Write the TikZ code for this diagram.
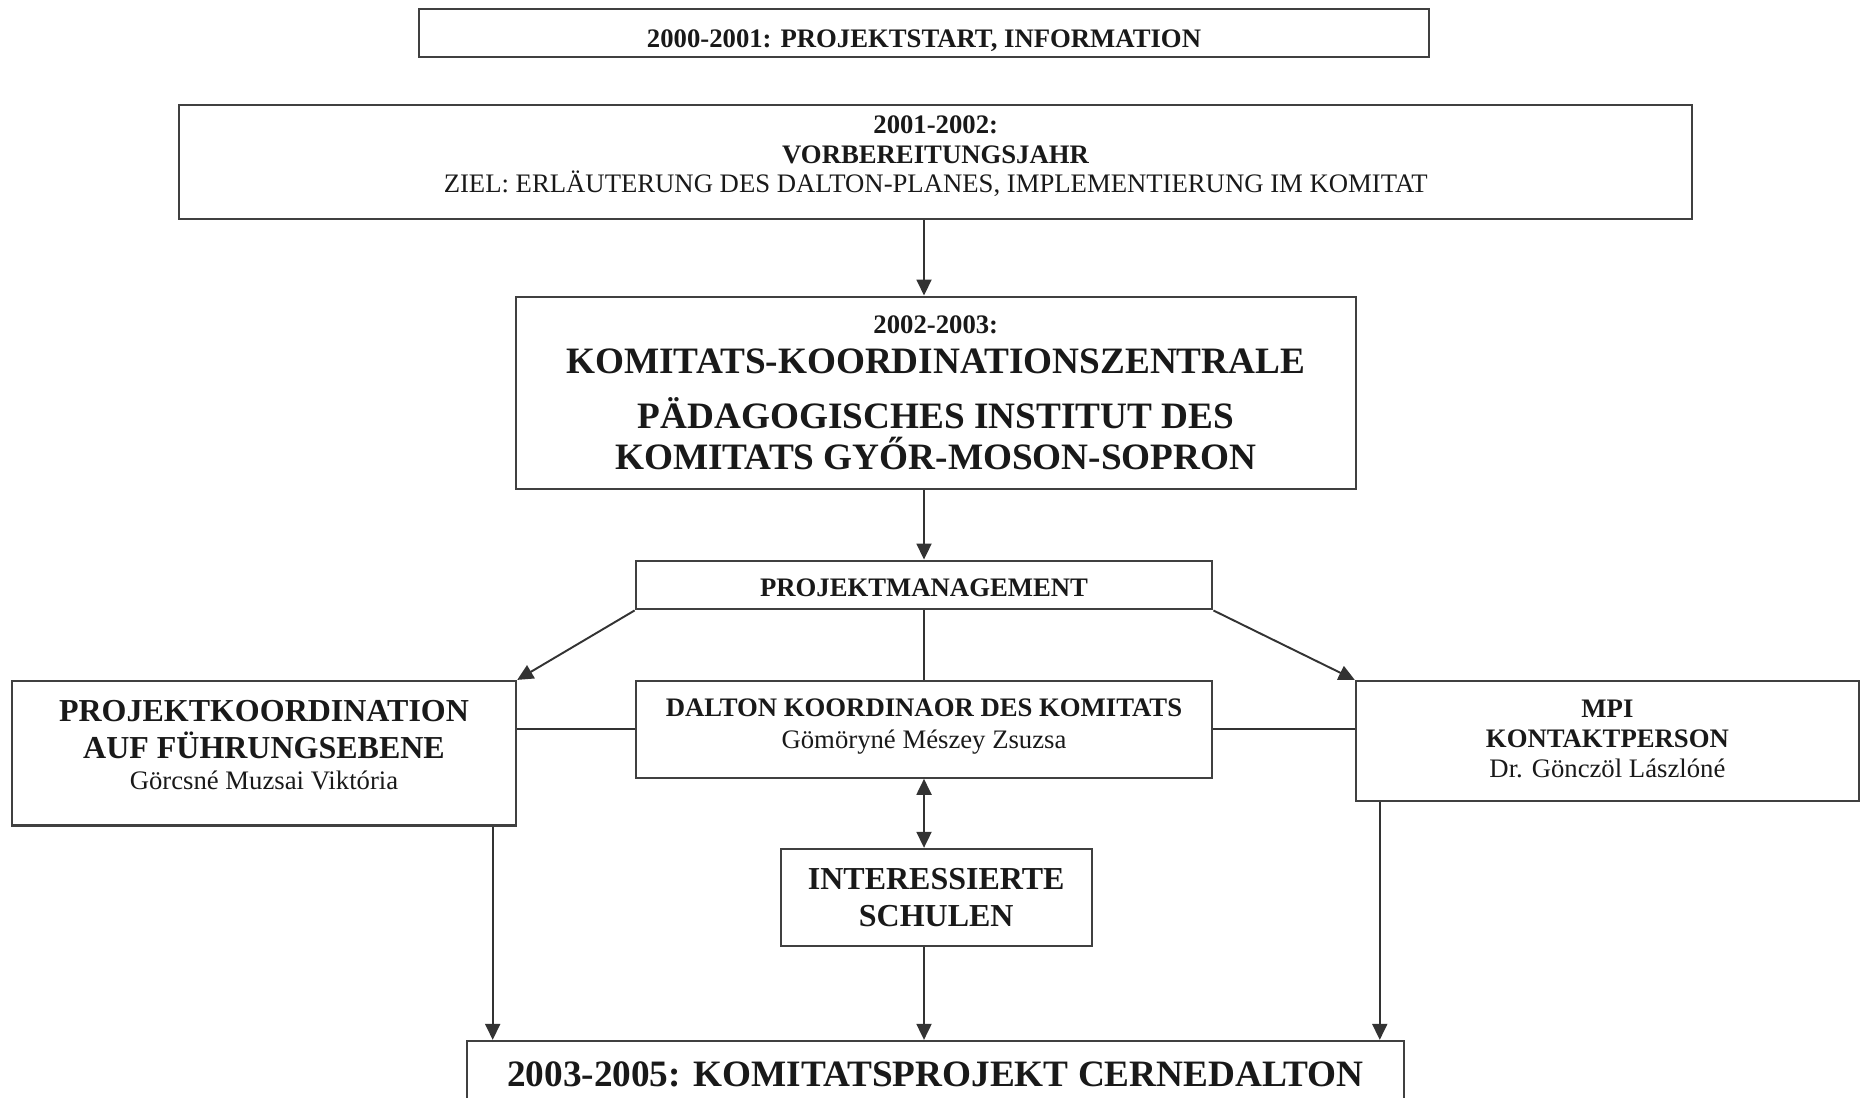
\documentclass[tikz,border=0pt]{standalone}
\usepackage{fontspec}
\setmainfont{Liberation Serif}
\usetikzlibrary{arrows.meta}

\tikzset{box/.style={draw=black!75,line width=0.65pt,inner sep=0pt,text=black!90}}

\begin{document}
\begin{tikzpicture}[>={Triangle[length=1.6mm,width=1.5mm]},every text node part/.style={align=center},line width=0.55pt,draw=black!80]

\useasboundingbox (0,0) rectangle (18.6,-10.97);
\clip (0,0) rectangle (18.6,-10.97);

%%%%%%%%%%%%%%%%%%%%%%%%%%%%%%%%%%%%%%

\node [box,minimum width=10.1cm,minimum height=0.48cm,text height=7.9pt,text depth=0pt,font=\bfseries\fontsize{7.6}{9}\selectfont] (b1) at (9.24,-0.333) {2000-2001: PROJEKTSTART, INFORMATION};

\node [box,minimum width=15.127cm,minimum height=1.143cm,text depth=4.4pt,font=\fontsize{7.6}{8.4}\selectfont] (b2) at (9.357,-1.622) {\textbf{2001-2002:}\\\textbf{VORBEREITUNGSJAHR}\\ZIEL: ERLÄUTERUNG DES DALTON-PLANES, IMPLEMENTIERUNG IM KOMITAT};

\node [box,minimum width=8.4cm,minimum height=1.923cm,text depth=0pt,font=\bfseries\fontsize{10.6}{11.4}\selectfont] (b3) at (9.358,-3.928) {{\fontsize{7.6}{9}\selectfont 2002-2003:}\\KOMITATS-KOORDINATIONSZENTRALE\\[4.3pt]PÄDAGOGISCHES INSTITUT DES\\[0.35pt]KOMITATS GYŐR-MOSON-SOPRON};

%%%%%%%%%%%%%%%%%%%%%%%%%%%%%%%%%%%%%%

\node [box,minimum width=5.765cm,minimum height=0.486cm,text height=6.6pt,text depth=0pt,font=\bfseries\fontsize{7.6}{9}\selectfont] (pm) at (9.24,-5.85) {PROJEKTMANAGEMENT};

\node [box,minimum width=5.041cm,minimum height=1.443cm,text depth=4.5pt,font=\fontsize{9.1}{9}\selectfont] (pk) at (2.64,-7.532) {\textbf{PROJEKTKOORDINATION}\\[1.4pt]\textbf{AUF FÜHRUNGSEBENE}\\{\fontsize{7.6}{9}\selectfont Görcsné Muzsai Viktória}};

\node [box,minimum width=5.765cm,minimum height=0.967cm,text depth=3.25pt,font=\fontsize{7.6}{9}\selectfont] (dalton) at (9.24,-7.293) {\textbf{DALTON KOORDINAOR DES KOMITATS}\\Gömöryné Mészey Zsuzsa};

\node [box,minimum width=5.03cm,minimum height=1.2cm,text depth=1.4pt,font=\fontsize{7.6}{8.6}\selectfont] (mpi) at (16.074,-7.41) {\textbf{MPI}\\\textbf{KONTAKTPERSON}\\Dr. Gönczöl Lászlóné};

\node [box,minimum width=3.11cm,minimum height=0.967cm,font=\bfseries\fontsize{9.1}{10.4}\selectfont] (int) at (9.362,-8.973) {INTERESSIERTE\\SCHULEN};

%%%%%%%%%%%%%%%%%%%%%%%%%%%%%%%%%%%%%%

\node [box,minimum width=9.364cm,minimum height=0.666cm,font=\bfseries\fontsize{10.6}{12}\selectfont] (fin) at (9.355,-10.743) {2003-2005: KOMITATSPROJEKT CERNEDALTON};

%%%%%%%%%%%%%%%%%%%%%%%%%%%%%%%%%%%%%%

\draw [->] (b2.south -| pm.north) -- (b3.north -| pm.north);
\draw [->] (b3.south -| pm.north) -- (pm.north);
\draw (pm.south) -- (dalton.north);
\draw [->] (pm.south west) -- (pk.north east);
\draw [->] (pm.south east) -- (mpi.north west);
\draw (pk.east |- dalton.west) -- (dalton.west);
\draw (dalton.east) -- (mpi.west |- dalton.east);
\draw [<->] (dalton.south) -- (int.north -| dalton.south);
\draw [->] (int.south -| pm.south) -- (fin.north -| pm.south);
\draw [->] ([xshift=-0.245cm]pk.south east) -- ([xshift=-0.245cm]pk.south east |- fin.north);
\draw [->] ([xshift=0.25cm]mpi.south west) -- ([xshift=0.25cm]mpi.south west |- fin.north);

\end{tikzpicture}
\end{document}
